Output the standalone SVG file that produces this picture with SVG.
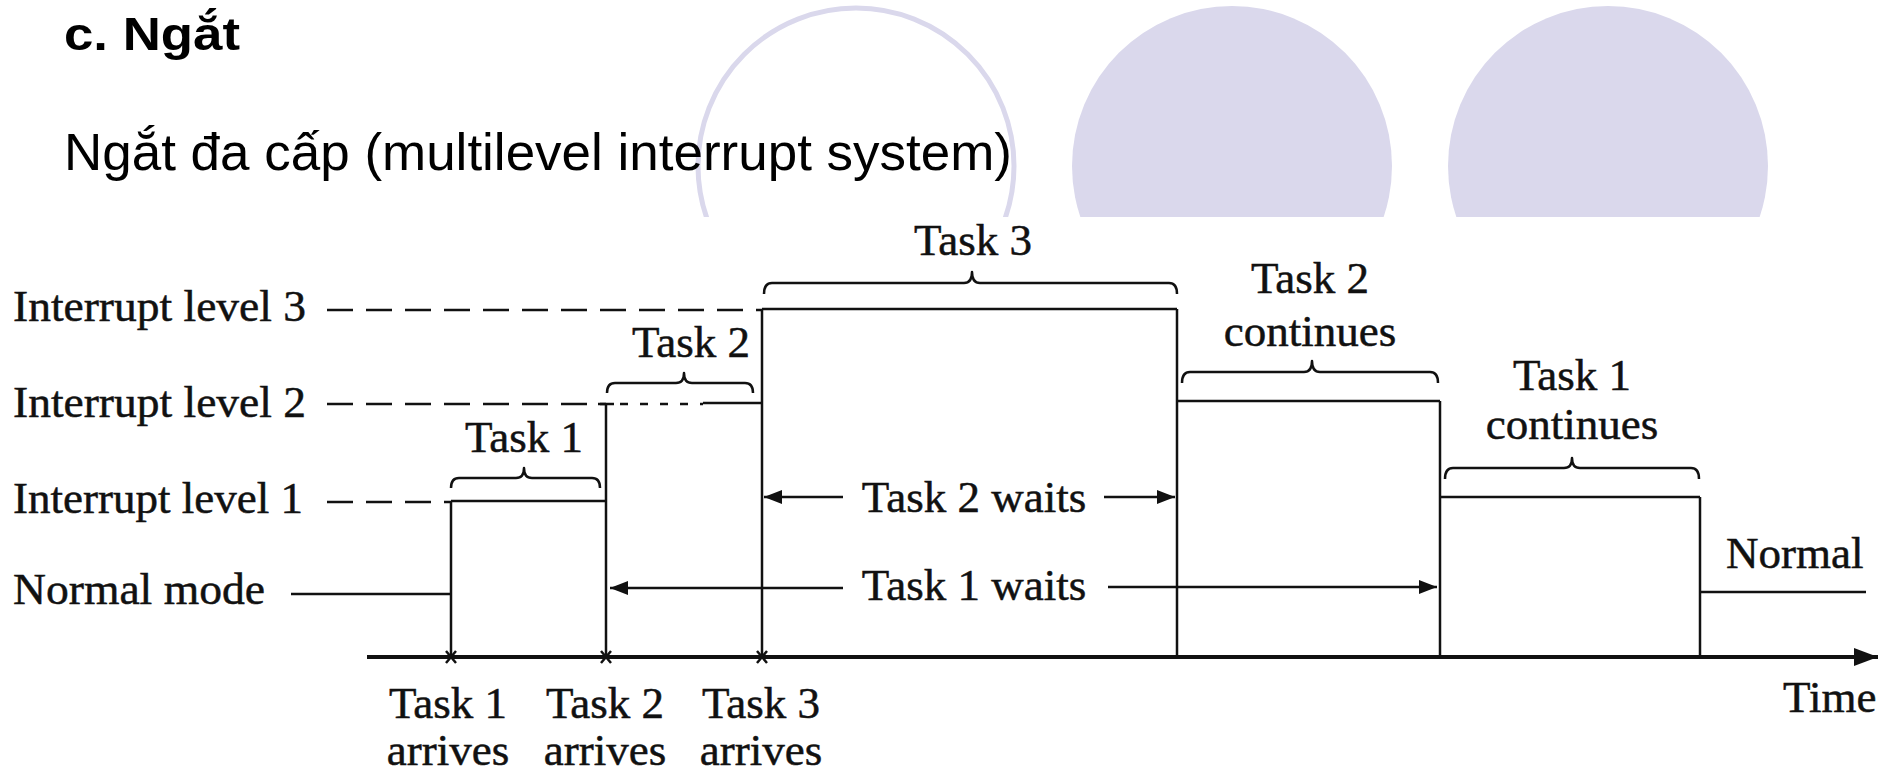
<svg xmlns="http://www.w3.org/2000/svg" width="1881" height="773" viewBox="0 0 1881 773">
  <style>
    .title { font-family: "Liberation Sans", Arial, sans-serif; font-weight: bold; font-size: 46px; fill: #000; }
    .sub { font-family: "Liberation Sans", Arial, sans-serif; font-size: 52px; fill: #000; }
    .lbl { font-family: "Liberation Serif", "Times New Roman", serif; font-size: 45px; fill: #111; stroke: #111; stroke-width: 0.5; }
    .mid { text-anchor: middle; }
    .ln { stroke: #111; stroke-width: 2.5; fill: none; }
    .dash { stroke: #111; stroke-width: 2.5; fill: none; stroke-dasharray: 26 13; }
    .brace { stroke: #111; stroke-width: 2.5; fill: none; stroke-linejoin: round; }
    .axis { stroke: #111; stroke-width: 4; fill: none; }
    .deco { fill: #dad8ec; }
  </style>
  <defs>
    <clipPath id="topclip"><rect x="0" y="0" width="1881" height="217"/></clipPath>
    <marker id="ah" markerUnits="userSpaceOnUse" markerWidth="20" markerHeight="14" refX="18" refY="7" orient="auto">
      <path d="M0,0 L18,7 L0,14 z" fill="#111"/>
    </marker>
    <marker id="axh" markerUnits="userSpaceOnUse" markerWidth="26" markerHeight="18" refX="24" refY="9" orient="auto">
      <path d="M0,0 L24,9 L0,18 z" fill="#111"/>
    </marker>
  </defs>

  <g id="decoration" clip-path="url(#topclip)">
    <circle cx="856" cy="166" r="158" fill="none" stroke="#dad8ec" stroke-width="5"/>
    <circle class="deco" cx="1232" cy="166" r="160"/>
    <circle class="deco" cx="1608" cy="166" r="160"/>
  </g>

  <g id="heading">
    <text class="title" x="64" y="50" textLength="176" lengthAdjust="spacingAndGlyphs">c. Ngắt</text>
    <text class="sub" x="64" y="170" textLength="948" lengthAdjust="spacingAndGlyphs">Ngắt đa cấp (multilevel interrupt system)</text>
  </g>

  <g id="level-labels">
    <text class="lbl" x="13" y="321" textLength="293" lengthAdjust="spacingAndGlyphs">Interrupt level 3</text>
    <text class="lbl" x="13" y="417" textLength="293" lengthAdjust="spacingAndGlyphs">Interrupt level 2</text>
    <text class="lbl" x="13" y="513" textLength="290" lengthAdjust="spacingAndGlyphs">Interrupt level 1</text>
    <text class="lbl" x="13" y="604" textLength="252" lengthAdjust="spacingAndGlyphs">Normal mode</text>
  </g>

  <g id="connectors">
    <line class="dash" x1="327" y1="310" x2="762" y2="310"/>
    <line class="dash" x1="327" y1="404" x2="606" y2="404"/>
    <line class="dash" x1="327" y1="502" x2="451" y2="502"/>
    <line class="ln" x1="291" y1="594" x2="451" y2="594"/>
    <line class="ln" x1="451" y1="501" x2="451" y2="657"/>
    <line class="ln" x1="451" y1="501" x2="606" y2="501"/>
    <line class="ln" x1="606" y1="404" x2="606" y2="657"/>
    <line class="ln" x1="598" y1="404" x2="614" y2="404"/>
    <line class="ln" x1="620" y1="404" x2="703" y2="404" stroke-dasharray="8 12"/>
    <line class="ln" x1="703" y1="403" x2="762" y2="403"/>
    <line class="ln" x1="762" y1="309" x2="762" y2="657"/>
    <line class="ln" x1="762" y1="309" x2="1177" y2="309"/>
    <line class="ln" x1="1177" y1="309" x2="1177" y2="657"/>
    <line class="ln" x1="1177" y1="401" x2="1440" y2="401"/>
    <line class="ln" x1="1440" y1="401" x2="1440" y2="657"/>
    <line class="ln" x1="1440" y1="497" x2="1700" y2="497"/>
    <line class="ln" x1="1700" y1="497" x2="1700" y2="657"/>
    <line class="ln" x1="1700" y1="592" x2="1866" y2="592"/>
    <line class="axis" x1="367" y1="657" x2="1878" y2="657" marker-end="url(#axh)"/>
    <path class="ln" d="M446,651 L456,663 M456,651 L446,663 M601,651 L611,663 M611,651 L601,663 M757,651 L767,663 M767,651 L757,663"/>
    <line class="ln" x1="843" y1="497" x2="764" y2="497" marker-end="url(#ah)"/>
    <line class="ln" x1="1104" y1="497" x2="1175" y2="497" marker-end="url(#ah)"/>
    <line class="ln" x1="843" y1="588" x2="610" y2="588" marker-end="url(#ah)"/>
    <line class="ln" x1="1108" y1="587" x2="1437" y2="587" marker-end="url(#ah)"/>
  </g>

  <g id="brace-task1">
    <path class="brace" d="M451,488 Q451,478 459,478 L516,478 Q524,478 524,468 Q524,478 532,478 L592,478 Q600,478 600,488"/>
    <text class="lbl mid" x="524" y="452">Task 1</text>
  </g>
  <g id="brace-task2">
    <path class="brace" d="M607,393 Q607,383 615,383 L676,383 Q684,383 684,373 Q684,383 692,383 L745,383 Q753,383 753,393"/>
    <text class="lbl mid" x="691" y="357">Task 2</text>
  </g>
  <g id="brace-task3">
    <path class="brace" d="M764,294 Q764,283 772,283 L964,283 Q972,283 972,272 Q972,283 980,283 L1169,283 Q1177,283 1177,294"/>
    <text class="lbl mid" x="973" y="255">Task 3</text>
  </g>
  <g id="brace-task2-continues">
    <path class="brace" d="M1182,383 Q1182,372 1190,372 L1304,372 Q1312,372 1312,361 Q1312,372 1320,372 L1430,372 Q1438,372 1438,383"/>
    <text class="lbl mid" x="1310" y="293">Task 2</text>
    <text class="lbl mid" x="1310" y="346">continues</text>
  </g>
  <g id="brace-task1-continues">
    <path class="brace" d="M1445,479 Q1445,468 1453,468 L1564,468 Q1572,468 1572,458 Q1572,468 1580,468 L1691,468 Q1699,468 1699,479"/>
    <text class="lbl mid" x="1572" y="390">Task 1</text>
    <text class="lbl mid" x="1572" y="439">continues</text>
  </g>

  <g id="normal-label">
    <text class="lbl" x="1726" y="568">Normal</text>
  </g>
  <g id="waits-labels">
    <text class="lbl mid" x="974" y="512">Task 2 waits</text>
    <text class="lbl mid" x="974" y="600">Task 1 waits</text>
  </g>
  <g id="time-label">
    <text class="lbl" x="1783" y="712">Time</text>
  </g>
  <g id="arrivals">
    <text class="lbl mid" x="448" y="718">Task 1</text>
    <text class="lbl mid" x="448" y="765">arrives</text>
    <text class="lbl mid" x="605" y="718">Task 2</text>
    <text class="lbl mid" x="605" y="765">arrives</text>
    <text class="lbl mid" x="761" y="718">Task 3</text>
    <text class="lbl mid" x="761" y="765">arrives</text>
  </g>
</svg>
